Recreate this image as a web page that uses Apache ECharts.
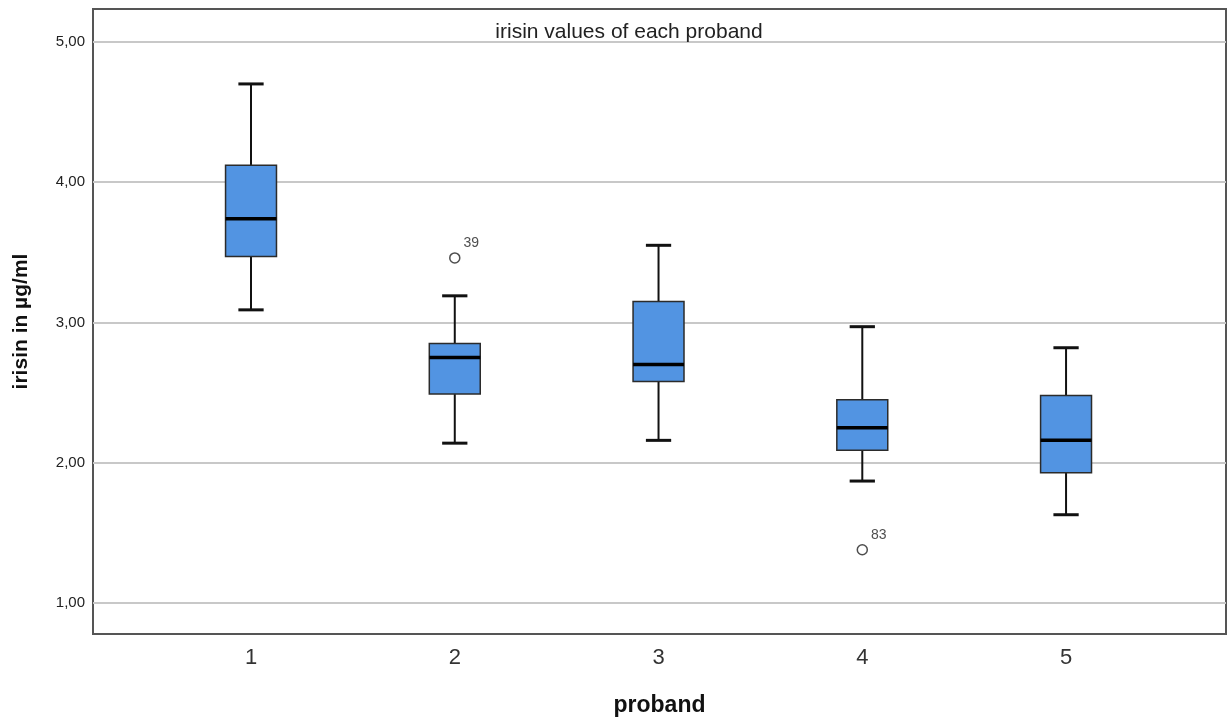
<!DOCTYPE html>
<html>
<head>
<meta charset="utf-8">
<script src="https://cdn.jsdelivr.net/npm/echarts@6/dist/echarts.min.js"></script>
<style>
  html, body { margin: 0; padding: 0; background: #fff; }
  #chart { width: 1232px; height: 722px; }
</style>
</head>
<body>
<div id="chart"></div>
<script>
const probands = [1, 2, 3, 4, 5];
const whiskerLow = [3.09, 2.14, 2.16, 1.87, 1.63];
const q1 = [3.47, 2.49, 2.58, 2.09, 1.93];
const median = [3.74, 2.75, 2.70, 2.25, 2.16];
const q3 = [4.12, 2.85, 3.15, 2.45, 2.48];
const whiskerHigh = [4.70, 3.19, 3.55, 2.97, 2.82];
const outliers = [[2, 3.46, '39'], [4, 1.38, '83']];
const yTicks = [1, 2, 3, 4, 5];

const boxData = probands.map((p, i) => [p, whiskerLow[i], q1[i], median[i], q3[i], whiskerHigh[i]]);

const FONT = '"Liberation Sans", Arial, sans-serif';
const chart = echarts.init(document.getElementById('chart'));

function renderBox(params, api) {
  const x = api.value(0);
  const halfBox = 0.125, halfCap = 0.062;
  const pLow = api.coord([x, api.value(1)]);
  const pQ1 = api.coord([x, api.value(2)]);
  const pMed = api.coord([x, api.value(3)]);
  const pQ3 = api.coord([x, api.value(4)]);
  const pHigh = api.coord([x, api.value(5)]);
  const bl = api.coord([x - halfBox, 0])[0];
  const br = api.coord([x + halfBox, 0])[0];
  const cl = api.coord([x - halfCap, 0])[0];
  const cr = api.coord([x + halfCap, 0])[0];
  const line = { stroke: '#111', lineWidth: 2 };
  return {
    type: 'group',
    children: [
      { type: 'line', shape: { x1: pHigh[0], y1: pHigh[1], x2: pQ3[0], y2: pQ3[1] }, style: line },
      { type: 'line', shape: { x1: pLow[0], y1: pLow[1], x2: pQ1[0], y2: pQ1[1] }, style: line },
      { type: 'line', shape: { x1: cl, y1: pHigh[1], x2: cr, y2: pHigh[1] }, style: { stroke: '#111', lineWidth: 3 } },
      { type: 'line', shape: { x1: cl, y1: pLow[1], x2: cr, y2: pLow[1] }, style: { stroke: '#111', lineWidth: 3 } },
      { type: 'rect', shape: { x: bl, y: pQ3[1], width: br - bl, height: pQ1[1] - pQ3[1] },
        style: { fill: '#5294e2', stroke: '#2b2b2b', lineWidth: 1.5 } },
      { type: 'line', shape: { x1: bl, y1: pMed[1], x2: br, y2: pMed[1] }, style: { stroke: '#000', lineWidth: 3.5 } }
    ]
  };
}

const option = {
  backgroundColor: '#fff',
  animation: false,
  title: {
    text: 'irisin values of each proband',
    left: 624, top: 17, textAlign: 'center',
    textStyle: { fontFamily: FONT, fontWeight: 'normal', fontSize: 21, color: '#222' }
  },
  grid: { left: 93, right: 6, top: 9, bottom: 86, show: true, borderColor: '#555', borderWidth: 2, backgroundColor: '#fff' },
  xAxis: {
    type: 'value',
    min: 0.2245, max: 5.785,
    name: 'proband', nameLocation: 'middle', nameGap: 60,
    nameTextStyle: { fontFamily: FONT, fontWeight: 'bold', fontSize: 23, color: '#111' },
    axisLine: { show: false },
    axisTick: { show: false, customValues: probands },
    splitLine: { show: false },
    axisLabel: { customValues: probands, margin: 13, fontFamily: FONT, fontSize: 22, color: '#333' }
  },
  yAxis: {
    type: 'value',
    min: 0.78, max: 5.234,
    name: 'irisin in µg/ml', nameLocation: 'middle', nameGap: 61, nameRotate: 90,
    nameTextStyle: { fontFamily: FONT, fontWeight: 'bold', fontSize: 21, color: '#111' },
    axisLine: { show: false },
    axisTick: { show: false, customValues: yTicks },
    splitLine: { show: true, lineStyle: { color: '#c8c8c8', width: 2 } },
    axisLabel: {
      customValues: yTicks, margin: 8, fontFamily: FONT, fontSize: 15, color: '#222',
      formatter: v => v.toFixed(2).replace('.', ',')
    }
  },
  series: [
    {
      type: 'custom',
      renderItem: renderBox,
      data: boxData,
      encode: { x: 0, y: [1, 2, 3, 4, 5] },
      z: 3
    },
    {
      type: 'scatter',
      data: outliers,
      symbol: 'circle', symbolSize: 10,
      itemStyle: { color: '#fff', borderColor: '#222', borderWidth: 1.5 },
      label: {
        show: true, formatter: p => p.data[2], position: 'right',
        offset: [-2, -15], fontFamily: FONT, fontSize: 14, color: '#222'
      },
      z: 4
    }
  ]
};

chart.setOption(option);
</script>
</body>
</html>
